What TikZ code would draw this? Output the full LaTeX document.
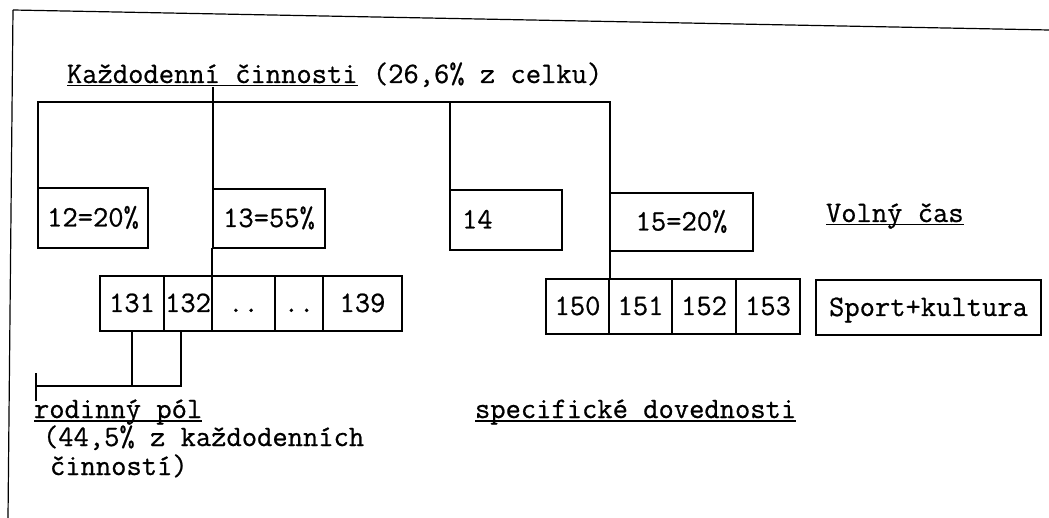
\documentclass[tikz,border=0pt]{standalone}
\usepackage{fontspec}
\setmonofont{Latin Modern Mono}[FakeBold=0.7]
\newcommand\myul[1]{\setbox0=\hbox{#1}\rlap{\rule[-3.5pt]{\wd0}{1.3pt}}\box0\relax}
\begin{document}
\begin{tikzpicture}[x=1pt,y=-1pt, line width=1.2pt,
  every node/.style={font=\ttfamily\fontsize{29.7}{34}\selectfont, inner sep=0pt, outer sep=0pt},
  box/.style={draw, anchor=north west, inner sep=0pt, outer sep=0pt, text height=17pt, text depth=0pt},
  txt/.style={anchor=base west}]
\useasboundingbox (0,0) rectangle (1049,518);
% frame
\draw (13,10) -- (1049,30);
\draw (13,10) -- (8,518);
% title
\node[txt] (title) at (67,83) {\myul{Každodenní činnosti} (26,6\% z celku)};
% second level boxes
\node[box, minimum width=110pt, minimum height=60pt] (b12) at (38,188) {12=20\%};
\node[box, minimum width=112pt, minimum height=59pt] (b13) at (213,189) {13=55\%};
\node[box, minimum width=112pt, minimum height=60pt, text width=88pt, align=left] (b14) at (450,190) {14};
\node[box, minimum width=143pt, minimum height=58pt] (b15) at (610,193) {15=20\%};
\node[txt] (volny) at (826,222) {\myul{Volný čas}};
% row 13x
\node[box, minimum width=64pt, minimum height=55pt] (c131) at (100,276) {131};
\node[box, minimum width=48pt, minimum height=55pt] (c132) at (c131.north east) {132};
\node[box, minimum width=63pt, minimum height=55pt] (cd1) at (c132.north east) {..};
\node[box, minimum width=48pt, minimum height=55pt] (cd2) at (cd1.north east) {..};
\node[box, minimum width=79pt, minimum height=55pt] (c139) at (cd2.north east) {139};
% row 15x
\node[box, minimum width=63pt, minimum height=55pt] (c150) at (546,279) {150};
\node[box, minimum width=63pt, minimum height=55pt] (c151) at (c150.north east) {151};
\node[box, minimum width=64pt, minimum height=55pt] (c152) at (c151.north east) {152};
\node[box, minimum width=64pt, minimum height=55pt] (c153) at (c152.north east) {153};
\node[box, minimum width=225pt, minimum height=55pt] (sk) at (816,280) {Sport+kultura};
% bottom texts
\node[txt] (rp1) at (34,418) {\myul{rodinný pól}};
\node[txt] (rp2) at (43,446) {(44,5\% z každodenních};
\node[txt] (rp3) at (50,475) {činností)};
\node[txt] (spec) at (475,418) {\myul{specifické dovednosti}};
% connectors
\coordinate (br) at (0,102);
\coordinate (t13) at (0,87);
\coordinate (rp) at (36,386);
\draw (b12.north west) |- (br -| b15.north west) -- (b15.north west);
\draw (b14.north west) -- (b14.north west |- br);
\draw (b13.north west |- t13) -- (b13.north west);
\draw (c132.north east |- b13.south) -- (c132.south east);
\draw (c131.south) |- (rp);
\draw ([xshift=-7pt]c132.south) |- (c131.south |- rp);
\draw (rp) ++(0,-13) -- ++(0,28);
\draw (b15.south west) -- (b15.south west |- c150.north);
\end{tikzpicture}
\end{document}
